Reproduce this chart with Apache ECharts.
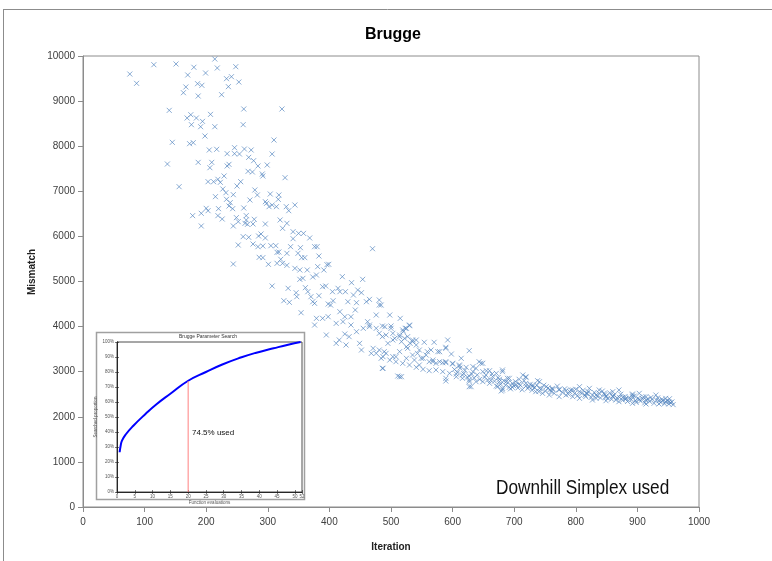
<!DOCTYPE html>
<html><head><meta charset="utf-8">
<script src="https://cdn.jsdelivr.net/npm/echarts@6/dist/echarts.min.js"></script>
<style>html,body{margin:0;padding:0;background:#fff}#c{width:772px;height:561px}</style>
</head><body><div id="c"></div>
<script>
// ---- data ----
const chartTitle = 'Brugge';
const xTicks = [0,100,200,300,400,500,600,700,800,900,1000];
const yTicks = [0,1000,2000,3000,4000,5000,6000,7000,8000,9000,10000];
const pointsEarly = [[214,9933],[115,9807],[151,9823],[76,9600],[180,9750],[218,9734],[248,9763],[199,9623],[170,9579],[87,9394],[233,9497],[241,9541],[253,9423],[186,9386],[193,9350],[167,9313],[236,9320],[163,9186],[187,9113],[225,9142],[140,8795],[261,8825],[323,8825],[175,8698],[169,8625],[184,8625],[194,8551],[207,8706],[176,8477],[191,8432],[214,8432],[260,8477],[198,8226],[145,8086],[173,8056],[179,8078],[310,8137],[205,7916],[217,7931],[246,7967],[262,7938],[273,7916],[234,7834],[246,7834],[254,7827],[307,7827],[269,7753],[277,7679],[137,7605],[187,7642],[209,7642],[206,7523],[237,7598],[234,7561],[284,7561],[299,7583],[268,7443],[275,7428],[291,7384],[292,7339],[328,7302],[229,7339],[156,7102],[203,7213],[212,7213],[219,7266],[223,7199],[256,7213],[250,7117],[227,7051],[232,6969],[244,6925],[279,7029],[283,6918],[304,6940],[318,6918],[317,6822],[215,6881],[233,6822],[239,6748],[237,6674],[271,6807],[296,6770],[298,6733],[307,6696],[314,6659],[302,6659],[200,6622],[203,6570],[220,6615],[243,6615],[261,6630],[330,6659],[344,6696],[334,6570],[178,6460],[192,6512],[219,6460],[226,6386],[249,6416],[252,6327],[265,6460],[265,6364],[263,6290],[278,6379],[276,6275],[267,6268],[192,6231],[244,6231],[296,6275],[320,6364],[331,6290],[324,6179],[341,6104],[350,6067],[358,6067],[341,5949],[368,5965],[260,5994],[269,5980],[285,6009],[289,6053],[296,5965]];
const pointsMid = [[470,5727],[252,5809],[276,5831],[284,5772],[292,5787],[305,5794],[313,5794],[337,5772],[353,5750],[376,5772],[380,5772],[318,5654],[315,5647],[331,5625],[349,5625],[286,5536],[292,5529],[321,5492],[355,5529],[360,5529],[383,5565],[244,5388],[301,5381],[315,5403],[324,5403],[331,5359],[344,5292],[352,5255],[364,5255],[381,5329],[396,5373],[391,5255],[399,5381],[373,5100],[379,5144],[352,5048],[357,5070],[421,5107],[454,5048],[307,4900],[333,4849],[346,4751],[347,4663],[361,4863],[365,4774],[370,4663],[383,4685],[389,4885],[394,4900],[405,4774],[414,4849],[417,4774],[426,4774],[436,4974],[439,4700],[446,4811],[452,4751],[326,4574],[335,4538],[354,4308],[373,4552],[376,4515],[398,4501],[406,4574],[402,4478],[430,4552],[444,4530],[460,4552],[465,4604],[417,4330],[425,4219],[435,4219],[442,4368],[481,4590],[484,4478],[498,4257],[476,4257],[379,4183],[389,4183],[398,4219],[411,4072],[422,4109],[435,4035],[462,4109],[465,4035],[486,4013],[500,4013],[395,3814],[376,4035],[425,3836],[432,3777],[411,3629],[416,3703],[427,3592],[449,3629],[452,3481],[444,3887],[455,3962],[465,3998],[476,3962],[490,3998],[500,3962],[481,3851],[486,3777],[495,3629],[503,3703],[514,3777],[468,3407],[476,3407],[492,3407],[484,3297],[498,3259],[508,3333],[486,3075],[511,2904],[471,3518]];
const pointsLate = [[515,4183],[530,4020],[523,3962],[520,3887],[514,3814],[503,3851],[527,3777],[535,3703],[541,3592],[531,3629],[525,3555],[554,3652],[570,3652],[592,3703],[589,3541],[598,3392],[579,3444],[565,3481],[557,3370],[627,3466],[614,3297],[543,3407],[549,3297],[538,3259],[546,3149],[514,2889],[568,3222],[579,3222],[589,3200],[600,3171],[611,3149],[573,3038],[584,3001],[595,2964],[606,2949],[616,2927],[627,2904],[589,2794],[630,2668],[627,2779],[633,3001],[646,3186],[638,3075],[654,2927],[665,2889],[676,2831],[687,2779],[697,2742],[708,2727],[719,2683],[657,2816],[673,2668],[681,2594],[697,2654],[676,2779],[681,3001],[689,2853],[708,2831],[719,2889],[741,2778],[730,2705],[752,2668],[762,2631],[773,2609],[784,2579],[795,2594],[806,2557],[817,2520],[827,2483],[838,2520],[849,2461],[860,2446],[871,2431],[881,2409],[892,2446],[903,2387],[914,2372],[924,2387],[935,2357],[946,2335],[954,2313],[481,4479],[492,3814],[506,3740],[519,3925],[525,3962],[530,4035],[522,3740],[517,3666],[535,3666],[541,3703],[481,3481],[489,3444],[503,3333],[487,3333],[514,3444],[527,3518],[546,3481],[559,3444],[576,3444],[589,3518],[487,3075],[517,2889],[508,3222],[519,3186],[530,3149],[541,3097],[552,3053],[562,3022],[525,3297],[535,3370],[552,3297],[568,3259],[584,3200],[562,3222],[573,3186],[589,3222],[600,3186],[611,3126],[622,3097],[633,3112],[643,3222],[649,3186],[589,2853],[606,2889],[616,2853],[627,2816],[638,2779],[649,2779],[660,2742],[671,2683],[681,2631],[692,2654],[627,2668],[649,3001],[660,3022],[671,2964],[681,3038],[692,2853],[719,2875],[730,2668],[741,2631],[762,2609],[773,2594],[714,2927],[738,2801],[719,2742],[679,2572],[792,2594],[819,2520],[833,2483],[846,2520],[860,2461],[876,2431],[892,2505],[908,2409],[941,2357],[951,2335],[806,2668],[822,2631],[838,2594],[860,2557],[870,2594],[892,2483],[914,2446],[930,2483],[946,2409],[806,2409],[827,2372],[849,2357],[870,2335],[892,2299],[914,2284],[935,2284],[951,2284],[784,2483],[795,2446],[816,2446],[833,2409],[849,2431],[865,2372],[881,2387],[897,2357],[903,2520],[773,2446],[757,2483],[746,2520],[735,2557],[724,2668],[703,2705]];
const pointsBand = [[760,2560],[765,2520],[770,2680],[778,2540],[782,2620],[788,2500],[790,2560],[798,2520],[800,2610],[803,2470],[810,2520],[812,2590],[815,2480],[820,2560],[825,2430],[830,2540],[835,2460],[840,2420],[843,2570],[847,2490],[852,2410],[855,2530],[858,2390],[862,2480],[867,2420],[873,2500],[876,2370],[880,2450],[884,2340],[887,2420],[890,2380],[895,2460],[898,2320],[901,2410],[905,2350],[910,2440],[912,2310],[917,2390],[920,2340],[922,2430],[927,2300],[931,2370],[933,2420],[938,2320],[940,2390],[944,2290],[948,2360],[952,2400],[956,2330],[958,2270],[603,3050],[608,2990],[612,3080],[618,2960],[620,3030],[624,2880],[631,2950],[635,2860],[640,2930],[644,2830],[652,2880],[655,3020],[662,2810],[664,2950],[668,2790],[674,2870],[678,2720],[683,2800],[686,2700],[690,2760],[694,2620],[699,2690],[702,2780],[706,2640],[710,2700],[713,2600],[716,2800],[722,2630],[726,2720],[729,2590],[733,2650],[737,2700],[740,2560],[744,2620],[748,2700],[751,2570],[755,2640],[758,2600]];
// inset: searched share of parameter space
const insetX = [0.74,1.0,1.4,2.5,4.6,8,11.1,15,19.9,25,29.6,35,38.9,44,48.1,51.6];
const insetY = [26.5,30.5,34.2,38.5,44.2,52,58.5,65.5,74,80,85,89.8,92.7,95.8,98.2,100];
const insetMarkX = 20, insetMarkY = 74;
const insetXTicks = [0,5,10,15,20,25,30,35,40,45,50];
const insetYTicks = [0,10,20,30,40,50,60,70,80,90,100];
const insetNote = '74.5% used';
const methodNote = 'Downhill Simplex used';

// ---- chart ----
const allPoints = pointsEarly.concat(pointsMid, pointsLate, pointsBand);
const chart = echarts.init(document.getElementById('c'), null, {renderer: 'canvas'});
const plain = v => String(v);
const lab = {fontFamily: 'Liberation Sans', fontSize: 10, color: '#404040', formatter: plain};
const tiny = {fontFamily: 'Liberation Sans', fontSize: 4.5, color: '#555'};
chart.setOption({
  animation: false,
  backgroundColor: '#fff',
  title: {text: chartTitle, left: 360, top: 22,
    textStyle: {fontFamily: 'Liberation Sans', fontWeight: 'bold', fontSize: 16, color: '#000'}},
  grid: [
    {left: 83, top: 56, width: 616, height: 451, show: true, borderColor: '#8c8c8c', borderWidth: 1, backgroundColor: 'transparent'},
    {left: 117, top: 342, width: 185, height: 150, show: true, borderColor: '#222', borderWidth: 0.8}
  ],
  xAxis: [
    {type: 'value', gridIndex: 0, min: xTicks[0], max: xTicks[xTicks.length-1], interval: 100,
     axisLine: {lineStyle: {color: '#8c8c8c'}}, axisTick: {show: true, length: 5, lineStyle: {color: '#8c8c8c'}},
     splitLine: {show: false}, axisLabel: Object.assign({margin: 10}, lab)},
    {type: 'value', gridIndex: 1, min: 0, max: 52, interval: 5,
     axisLine: {lineStyle: {color: '#222', width: 0.8}}, axisTick: {inside: true, length: 2, lineStyle: {color: '#222', width: 0.6}},
     splitLine: {show: false}, axisLabel: Object.assign({margin: 2}, tiny),
     name: 'Function evaluations', nameLocation: 'middle', nameGap: 6, nameTextStyle: tiny},
    {type: 'value', gridIndex: 1, position: 'top', min: 0, max: 52, interval: 5,
     axisLine: {lineStyle: {color: '#222', width: 0.8}}, axisTick: {inside: true, length: 2, lineStyle: {color: '#222', width: 0.6}},
     splitLine: {show: false}, axisLabel: {show: false}}
  ],
  yAxis: [
    {type: 'value', gridIndex: 0, min: yTicks[0], max: yTicks[yTicks.length-1], interval: 1000,
     axisLine: {show: true, lineStyle: {color: '#8c8c8c'}}, axisTick: {show: true, length: 5, lineStyle: {color: '#8c8c8c'}},
     splitLine: {show: false}, axisLabel: Object.assign({margin: 8}, lab)},
    {type: 'value', gridIndex: 1, min: 0, max: 100, interval: 10,
     axisLine: {show: true, lineStyle: {color: '#222', width: 0.8}}, axisTick: {show: true, inside: true, length: 2, lineStyle: {color: '#222', width: 0.6}},
     splitLine: {show: false}, axisLabel: Object.assign({margin: 3, formatter: v => v + '%'}, tiny),
     name: 'Searched proportion', nameLocation: 'middle', nameGap: 13, nameTextStyle: tiny},
    {type: 'value', gridIndex: 1, position: 'right', min: 0, max: 100, interval: 10,
     axisLine: {show: true, lineStyle: {color: '#222', width: 0.8}}, axisTick: {show: true, inside: true, length: 2, lineStyle: {color: '#222', width: 0.6}},
     splitLine: {show: false}, axisLabel: {show: false}}
  ],
  series: [
    {type: 'scatter', xAxisIndex: 0, yAxisIndex: 0, data: allPoints,
     symbol: 'path://M0,0L10,10M10,0L0,10', symbolSize: 5,
     itemStyle: {color: 'none', borderColor: '#4f81bd', borderWidth: 0.9, opacity: 0.75}},
    {type: 'line', xAxisIndex: 1, yAxisIndex: 1, data: insetX.map((x, i) => [x, insetY[i]]),
     smooth: true, showSymbol: false, lineStyle: {color: '#0000ff', width: 2}},
    {type: 'line', xAxisIndex: 1, yAxisIndex: 1, data: [[insetMarkX, 0], [insetMarkX, insetMarkY]],
     showSymbol: false, lineStyle: {color: '#ff8080', width: 1}}
  ],
  graphic: [
    {type: 'line', shape: {x1: 3, y1: 9.5, x2: 772, y2: 9.5}, style: {stroke: '#8c8c8c', lineWidth: 1}},
    {type: 'line', shape: {x1: 3.5, y1: 9, x2: 3.5, y2: 561}, style: {stroke: '#8c8c8c', lineWidth: 1}},
    {type: 'rect', shape: {x: 96.5, y: 332.5, width: 208, height: 167}, style: {fill: 'none', stroke: '#a0a0a0', lineWidth: 1.5}},
    {type: 'text', x: 208, y: 337, style: {text: 'Brugge Parameter Search', fontFamily: 'Liberation Sans', fontSize: 5, fill: '#333', align: 'center', verticalAlign: 'middle'}},
    {type: 'text', x: 192, y: 433, style: {text: insetNote, fontFamily: 'Liberation Sans', fontSize: 8, fill: '#111', align: 'left', verticalAlign: 'middle'}},
    {type: 'text', x: 496, y: 488, scaleX: 0.82, style: {text: methodNote, fontFamily: 'Liberation Sans', fontSize: 21, fill: '#111', align: 'left', verticalAlign: 'middle'}},
    {type: 'text', x: 32, y: 272, rotation: Math.PI / 2, style: {text: 'Mismatch', fontFamily: 'Liberation Sans', fontWeight: 'bold', fontSize: 10, fill: '#222', align: 'center', verticalAlign: 'middle'}},
    {type: 'text', x: 391, y: 547, style: {text: 'Iteration', fontFamily: 'Liberation Sans', fontWeight: 'bold', fontSize: 10, fill: '#222', align: 'center', verticalAlign: 'middle'}}
  ]
});
</script></body></html>
